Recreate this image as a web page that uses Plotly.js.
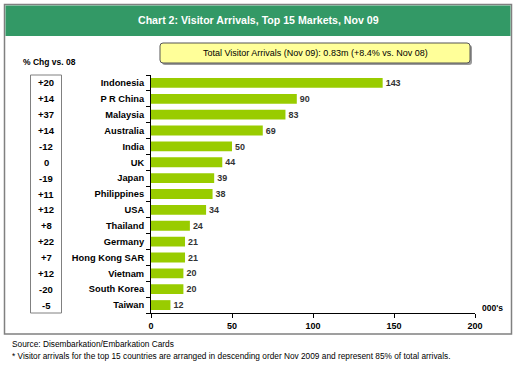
<!DOCTYPE html>
<html><head><meta charset="utf-8">
<script src="https://cdn.plot.ly/plotly-3.0.1.min.js"></script>
<style>html,body{margin:0;padding:0;background:#fff}#c{width:516px;height:366px}</style>
</head><body><div id="c"></div>
<script>
const markets = ["Indonesia","P R China","Malaysia","Australia","India","UK","Japan","Philippines","USA","Thailand","Germany","Hong Kong SAR","Vietnam","South Korea","Taiwan"];
const arrivals = [143,90,83,69,50,44,39,38,34,24,21,21,20,20,12];
const pctChange = ["+20","+14","+37","+14","-12","0","-19","+11","+12","+8","+22","+7","+12","-20","-5"];
const xTicks = [0,50,100,150,200];

const W=516,H=366,L=151,R=475,T=75,B=313;
const px = x => (x-L)/(R-L);
const py = y => (B-y)/(B-T);
const F = "Arial, 'Liberation Sans', sans-serif";

function roundRect(x0,y0,x1,y1,r){
  const p=(x,y)=>px(x).toFixed(5)+','+py(y).toFixed(5);
  return 'M'+p(x0+r,y0)+' L'+p(x1-r,y0)+' Q'+p(x1,y0)+' '+p(x1,y0+r)+' L'+p(x1,y1-r)+' Q'+p(x1,y1)+' '+p(x1-r,y1)+' L'+p(x0+r,y1)+' Q'+p(x0,y1)+' '+p(x0,y1-r)+' L'+p(x0,y0+r)+' Q'+p(x0,y0)+' '+p(x0+r,y0)+' Z';
}

const shapes = [
  {type:'rect',xref:'paper',yref:'paper',x0:px(4.5),x1:px(511.5),y0:py(4.5),y1:py(334),line:{color:'#808080',width:1.5},fillcolor:'rgba(0,0,0,0)',layer:'below'},
  {type:'rect',xref:'paper',yref:'paper',x0:px(5.5),x1:px(510.5),y0:py(5.5),y1:py(36),line:{width:0},fillcolor:'#339966',layer:'below'},
  {type:'path',xref:'paper',yref:'paper',path:roundRect(162,45,472,65,3),line:{width:0},fillcolor:'#9a9a9a',layer:'below'},
  {type:'path',xref:'paper',yref:'paper',path:roundRect(160,43,470,63,3),line:{color:'#555',width:1},fillcolor:'#FFFF99',layer:'below'},
  {type:'rect',xref:'paper',yref:'paper',x0:px(30.5),x1:px(61.5),y0:py(75),y1:py(313),line:{color:'#808080',width:1},fillcolor:'rgba(0,0,0,0)'}
];

const annotations = [
  {xref:'paper',yref:'paper',x:px(258),y:py(20),text:'<b>Chart 2: Visitor Arrivals, Top 15 Markets, Nov 09</b>',showarrow:false,font:{family:F,size:10.6,color:'#fff'},xanchor:'center',yanchor:'middle'},
  {xref:'paper',yref:'paper',x:px(315),y:py(53),text:'Total Visitor Arrivals (Nov 09): 0.83m (+8.4% vs. Nov 08)',showarrow:false,font:{family:F,size:9,color:'#000'},xanchor:'center',yanchor:'middle'},
  {xref:'paper',yref:'paper',x:px(21),y:py(62),text:'<b>% Chg vs. 08</b>',showarrow:false,font:{family:F,size:8.5,color:'#000'},xanchor:'left',yanchor:'middle'},
  {xref:'paper',yref:'paper',x:px(492),y:py(308),text:'<b>000\'s</b>',showarrow:false,font:{family:F,size:8.5,color:'#000'},xanchor:'center',yanchor:'middle'},
  {xref:'paper',yref:'paper',x:px(10),y:py(344),text:'Source: Disembarkation/Embarkation Cards',showarrow:false,font:{family:F,size:8.3,color:'#000'},xanchor:'left',yanchor:'middle'},
  {xref:'paper',yref:'paper',x:px(10),y:py(356),text:'* Visitor arrivals for the top 15 countries are arranged in descending order Nov 2009 and represent 85% of total arrivals.',showarrow:false,font:{family:F,size:8.3,color:'#000'},xanchor:'left',yanchor:'middle'}
];
markets.forEach((m,i)=>{
  annotations.push({xref:'paper',yref:'y',x:px(46),y:m,text:'<b>'+pctChange[i]+'</b>',showarrow:false,font:{family:F,size:9.5,color:'#000'},xanchor:'center',yanchor:'middle'});
});

const trace = {
  type:'bar',orientation:'h',y:markets,x:arrivals,
  marker:{color:'#99CC00',line:{width:0}},
  text:arrivals.map(v=>'<b>'+v+'</b>'),textposition:'outside',cliponaxis:false,
  textfont:{family:F,size:10,color:'#333'},
  hoverinfo:'none',width:0.62
};

const layout = {
  width:W,height:H,
  margin:{l:L,r:W-R,t:T,b:H-B,pad:0},
  paper_bgcolor:'#fff',plot_bgcolor:'rgba(0,0,0,0)',
  showlegend:false,
  font:{family:F,color:'#000'},
  xaxis:{range:[0,200],tickvals:xTicks,ticktext:xTicks.map(v=>'<b>'+v+'</b>'),showgrid:false,zeroline:false,showline:true,linecolor:'#000',linewidth:1,ticks:'outside',ticklen:4,tickcolor:'#000',tickfont:{family:F,size:9,color:'#000'},fixedrange:true},
  yaxis:{type:'category',autorange:'reversed',showgrid:false,zeroline:false,showline:true,linecolor:'#000',linewidth:1,ticks:'outside',ticklen:4,tickcolor:'#000',tickson:'boundaries',ticklabelstandoff:4,tickfont:{family:F,size:9.3,color:'#000'},ticktext:markets.map(m=>'<b>'+m+'</b>'),tickvals:markets,fixedrange:true},
  shapes:shapes,annotations:annotations
};
Plotly.newPlot('c',[trace],layout,{displayModeBar:false,staticPlot:true});
</script></body></html>
